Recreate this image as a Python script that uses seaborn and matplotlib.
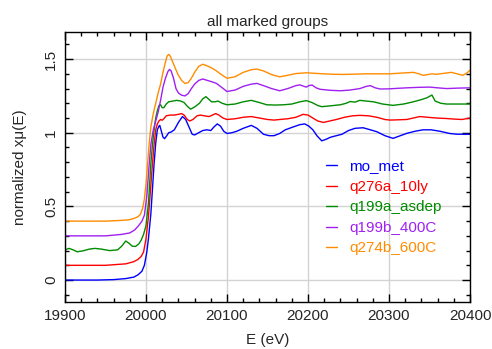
import numpy as np
import pandas as pd
import matplotlib
matplotlib.use("Agg")
import matplotlib.pyplot as plt
from matplotlib.ticker import MultipleLocator
import seaborn as sns

groups = ["mo_met", "q276a_10ly", "q199a_asdep", "q199b_400C", "q274b_600C"]
colors = ["#0000ff", "#ff0000", "#008b00", "#a020f0", "#ff8c00"]

e_mo_met = [19900, 19940, 19960, 19975, 19985, 19990, 19995, 19998, 20001, 20003, 20006, 20008, 20010, 20012,
            20014, 20016, 20017, 20019, 20021, 20023, 20025, 20028, 20031, 20035, 20040, 20045, 20049, 20053,
            20057, 20060, 20065, 20070, 20075, 20080, 20084, 20088, 20092, 20096, 20100, 20106, 20112, 20120,
            20130, 20137, 20145, 20152, 20158, 20165, 20172, 20182, 20190, 20196, 20201, 20206, 20211, 20217,
            20222, 20228, 20235, 20242, 20250, 20258, 20268, 20277, 20285, 20295, 20305, 20314, 20322, 20332,
            20342, 20352, 20363, 20375, 20384, 20392, 20400]
mu_mo_met = [0.0, 0.0, 0.003, 0.01, 0.02, 0.035, 0.06, 0.1, 0.19, 0.28, 0.45, 0.62, 0.79, 0.93,
             1.02, 1.045, 1.05, 1.01, 0.97, 0.96, 0.975, 1.0, 1.005, 1.02, 1.07, 1.11, 1.09, 1.04,
             0.99, 0.985, 1.0, 1.015, 1.02, 1.015, 1.04, 1.06, 1.045, 1.01, 0.995, 1.0, 1.01, 1.03,
             1.05, 1.03, 0.99, 0.98, 0.98, 0.995, 1.02, 1.04, 1.055, 1.06, 1.045, 1.02, 0.98, 0.945,
             0.955, 0.97, 0.98, 0.99, 1.015, 1.03, 1.034, 1.02, 1.007, 0.98, 0.962, 0.98, 0.996, 1.01,
             1.02, 1.02, 1.01, 0.995, 0.99, 0.99, 0.99]

e_q276a = [19900, 19950, 19975, 19985, 19990, 19994, 19997, 20000, 20003, 20005, 20008, 20010, 20012, 20014,
           20016, 20018, 20020, 20022, 20025, 20030, 20035, 20040, 20044, 20047, 20051, 20054, 20058, 20063,
           20067, 20072, 20078, 20082, 20086, 20090, 20095, 20100, 20110, 20120, 20130, 20140, 20150, 20158,
           20165, 20175, 20185, 20194, 20200, 20206, 20212, 20219, 20227, 20235, 20245, 20255, 20264, 20275,
           20285, 20295, 20301, 20312, 20322, 20330, 20338, 20348, 20358, 20370, 20380, 20390, 20400]
mu_q276a = [0.10, 0.10, 0.11, 0.125, 0.14, 0.16, 0.19, 0.28, 0.43, 0.57, 0.79, 0.92, 1.02, 1.06,
            1.08, 1.09, 1.085, 1.095, 1.115, 1.12, 1.12, 1.125, 1.13, 1.12, 1.09, 1.08, 1.09, 1.115,
            1.12, 1.115, 1.11, 1.12, 1.13, 1.12, 1.10, 1.09, 1.095, 1.105, 1.11, 1.10, 1.09, 1.086,
            1.09, 1.095, 1.105, 1.125, 1.12, 1.10, 1.08, 1.07, 1.08, 1.09, 1.105, 1.115, 1.118, 1.115,
            1.105, 1.09, 1.086, 1.088, 1.09, 1.10, 1.11, 1.105, 1.10, 1.097, 1.093, 1.09, 1.10]

e_q199a = [19900, 19905, 19910, 19915, 19922, 19930, 19937, 19945, 19955, 19965, 19970, 19975, 19979, 19983,
           19987, 19991, 19994, 19997, 20000, 20003, 20006, 20008, 20010, 20012, 20014, 20016, 20018, 20020,
           20022, 20025, 20028, 20033, 20038, 20043, 20047, 20051, 20055, 20060, 20066, 20070, 20074, 20078,
           20081, 20085, 20089, 20094, 20100, 20110, 20120, 20130, 20140, 20149, 20160, 20170, 20180, 20190,
           20198, 20205, 20212, 20217, 20228, 20240, 20247, 20252, 20258, 20264, 20272, 20281, 20292, 20305,
           20318, 20330, 20340, 20347, 20353, 20357, 20364, 20371, 20385, 20400]
mu_q199a = [0.205, 0.215, 0.205, 0.192, 0.198, 0.21, 0.215, 0.21, 0.20, 0.205, 0.23, 0.265, 0.25, 0.23,
            0.228, 0.245, 0.27, 0.31, 0.37, 0.52, 0.79, 0.92, 1.02, 1.10, 1.15, 1.185, 1.19, 1.17,
            1.17, 1.195, 1.21, 1.215, 1.22, 1.215, 1.205, 1.18, 1.16, 1.175, 1.20, 1.23, 1.245, 1.225,
            1.21, 1.21, 1.215, 1.20, 1.19, 1.195, 1.21, 1.22, 1.205, 1.19, 1.188, 1.19, 1.195, 1.21,
            1.218, 1.205, 1.185, 1.177, 1.183, 1.19, 1.20, 1.212, 1.208, 1.22, 1.215, 1.21, 1.195, 1.186,
            1.195, 1.21, 1.225, 1.238, 1.256, 1.215, 1.20, 1.195, 1.195, 1.195]

e_q199b = [19900, 19950, 19970, 19980, 19986, 19991, 19995, 19998, 20001, 20004, 20006, 20009, 20012, 20015,
           20018, 20021, 20024, 20027, 20029, 20031, 20034, 20037, 20040, 20044, 20048, 20052, 20056, 20060,
           20065, 20070, 20076, 20082, 20087, 20093, 20100, 20110, 20120, 20130, 20137, 20145, 20155, 20165,
           20175, 20185, 20190, 20195, 20198, 20201, 20205, 20210, 20215, 20228, 20240, 20252, 20264, 20272,
           20277, 20283, 20289, 20300, 20312, 20322, 20335, 20350, 20360, 20371, 20385, 20400]
mu_q199b = [0.30, 0.30, 0.31, 0.32, 0.34, 0.37, 0.40, 0.44, 0.57, 0.79, 0.92, 1.02, 1.08, 1.14,
            1.22, 1.31, 1.37, 1.415, 1.43, 1.42, 1.37, 1.30, 1.27, 1.255, 1.25, 1.265, 1.30, 1.33,
            1.355, 1.365, 1.355, 1.345, 1.335, 1.31, 1.28, 1.29, 1.315, 1.33, 1.335, 1.32, 1.30, 1.285,
            1.30, 1.32, 1.325, 1.315, 1.31, 1.32, 1.324, 1.305, 1.295, 1.288, 1.285, 1.29, 1.30, 1.315,
            1.32, 1.305, 1.297, 1.298, 1.302, 1.305, 1.308, 1.31, 1.305, 1.30, 1.303, 1.305]

e_q274b = [19900, 19950, 19970, 19980, 19986, 19990, 19993, 19996, 19998, 20000, 20002, 20004, 20006, 20009,
           20012, 20015, 20018, 20021, 20024, 20026, 20028, 20030, 20033, 20036, 20040, 20044, 20048, 20052,
           20056, 20060, 20065, 20070, 20075, 20081, 20087, 20093, 20100, 20110, 20120, 20130, 20137, 20145,
           20155, 20165, 20175, 20185, 20198, 20210, 20219, 20232, 20244, 20258, 20272, 20287, 20301, 20315,
           20330, 20337, 20342, 20348, 20353, 20358, 20363, 20370, 20377, 20384, 20391, 20396, 20400]
mu_q274b = [0.40, 0.40, 0.405, 0.41, 0.42, 0.43, 0.445, 0.49, 0.55, 0.65, 0.79, 0.93, 1.04, 1.13,
            1.20, 1.27, 1.33, 1.41, 1.48, 1.52, 1.532, 1.52, 1.48, 1.44, 1.39, 1.355, 1.335, 1.34,
            1.37, 1.41, 1.45, 1.465, 1.455, 1.44, 1.42, 1.395, 1.37, 1.38, 1.41, 1.428, 1.432, 1.42,
            1.395, 1.38, 1.39, 1.402, 1.407, 1.403, 1.40, 1.397, 1.396, 1.398, 1.40, 1.40, 1.40, 1.405,
            1.41, 1.40, 1.39, 1.395, 1.40, 1.397, 1.40, 1.405, 1.41, 1.40, 1.39, 1.405, 1.425]

energies = [e_mo_met, e_q276a, e_q199a, e_q199b, e_q274b]
values = [mu_mo_met, mu_q276a, mu_q199a, mu_q199b, mu_q274b]

frames = []
for g, e, m in zip(groups, energies, values):
    frames.append(pd.DataFrame({"E": e, "mu": m, "group": g}))
df = pd.concat(frames, ignore_index=True)

sns.set_theme(style="white")
plt.rcParams["font.family"] = ["Liberation Sans", "DejaVu Sans"]

fig = plt.figure(figsize=(4.92, 3.49), dpi=100)
ax = fig.add_axes([65 / 492, 47 / 349, 405 / 492, 270 / 349])

sns.lineplot(data=df, x="E", y="mu", hue="group", hue_order=groups,
             palette=dict(zip(groups, colors)), estimator=None, sort=False,
             linewidth=1.0, ax=ax, legend=False)

ax.set_xlim(19900, 20400)
ax.set_ylim(-0.149, 1.684)
ax.xaxis.set_major_locator(MultipleLocator(100))
ax.xaxis.set_minor_locator(MultipleLocator(20))
ax.yaxis.set_major_locator(MultipleLocator(0.5))
ax.yaxis.set_minor_locator(MultipleLocator(0.1))
ax.set_yticks([0, 0.5, 1, 1.5])
ax.set_yticklabels(["0", "0.5", "1", "1.5"])
ax.grid(True, which="major", color="#d3d3d3", linewidth=1.0)
ax.set_axisbelow(True)
ax.tick_params(which="both", direction="in", top=True, right=True, bottom=True, left=True,
               color="black", labelsize=11)
ax.tick_params(which="major", length=6, width=1, pad=5)
ax.tick_params(which="minor", length=3, width=1)
for lab in ax.get_yticklabels():
    lab.set_rotation(90)
    lab.set_va("center")
for sp in ax.spines.values():
    sp.set_color("black")
    sp.set_linewidth(1.0)

ax.set_xlabel("E (eV)", fontsize=11, labelpad=7)
ax.set_ylabel("normalized xμ(E)", fontsize=11, labelpad=12)
ax.set_title("all marked groups", fontsize=11, pad=4)

handles = [plt.Line2D([], [], color=c, lw=1) for c in colors]
leg = ax.legend(handles, groups, loc="upper left", bbox_to_anchor=(0.63, 0.55),
                frameon=False, fontsize=11, handlelength=0.7, handletextpad=0.8,
                labelspacing=0.42, borderaxespad=0)
for t, c in zip(leg.get_texts(), colors):
    t.set_color(c)

fig.savefig("out.png", dpi=100)
